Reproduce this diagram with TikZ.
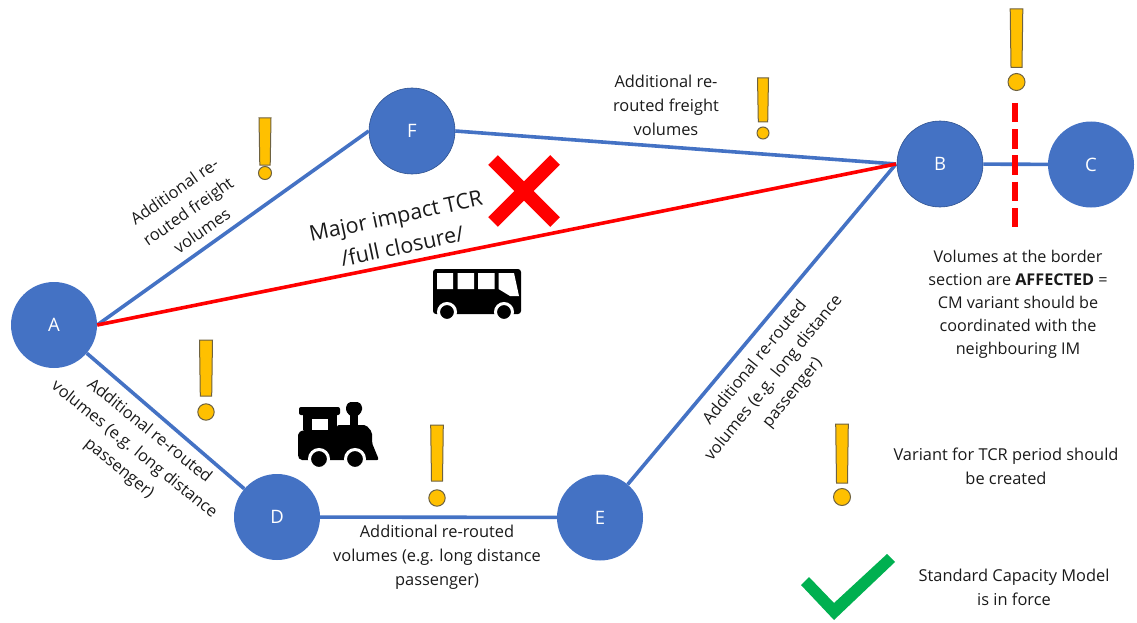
\documentclass[tikz,border=0pt]{standalone}
\usepackage{fontspec}
\setmainfont{Open Sans}
\definecolor{nodeblue}{HTML}{4472C4}
\definecolor{nodeedge}{HTML}{2F528F}
\definecolor{bangfill}{HTML}{FFC000}
\definecolor{bangedge}{HTML}{6E6240}
\definecolor{okgreen}{HTML}{00B050}
\definecolor{txt}{HTML}{1A1A1A}
\tikzset{
  station/.style={circle,fill=nodeblue,minimum size=86pt,inner sep=0pt,text=white,font=\fontsize{18.5}{18.5}\selectfont},
  edged/.style={draw=nodeedge,line width=0.6pt},
  route/.style={draw=nodeblue,line width=3.6pt},
  closed/.style={draw=red,line width=3.6pt},
  bangshape/.style={fill=bangfill,draw=bangedge,line width=1pt},
  label/.style={align=center,text=txt,inner sep=0pt,font=\fontsize{16.4}{24}\selectfont},
}
% x, top, bottom, half width, circle y, circle radius
\newcommand{\bangmark}[6]{
  \path[bangshape] (#1-#4,#2) -- (#1+#4,#2) -- (#1+#4-0.8,#3) -- (#1-#4+0.8,#3) -- cycle;
  \path[bangshape] (#1,#5) circle (#6);
}
\begin{document}
\begin{tikzpicture}[x=1pt,y=-1pt]
\useasboundingbox (0,0) rectangle (1137,623);
\coordinate (Bhub) at (896,164);
\coordinate (Dashtop) at (1015,103);
\coordinate (Dashbot) at (1015,228);
\node[station] (A) at (54,325) {A};
\node[station,edged] (F) at (412,131) {F};
\node[station,edged] (B) at (940,164) {B};
\node[station] (C) at (1091,164.5) {C};
\node[station] (D) at (277,517) {D};
\node[station] (E) at (600,517.5) {E};
\path[route] (A.east) -- (F.west);
\path[route] (F.east) -- (Bhub);
\path[route] (A) -- (D);
\path[route] (D) -- (E);
\path[route] (E) -- (Bhub);
\path[route] (B) -- (C);
\path[closed] (A.east) -- (Bhub);
\path[draw=red,line width=6.5pt,dash pattern=on 19.5pt off 6.7pt] (Dashtop) -- (Dashbot);
% exclamation marks
\bangmark{265}{118}{165}{6}{173}{6.5}
\bangmark{763}{78}{122}{5.5}{133}{6}
\bangmark{1016.5}{9}{67.5}{6.3}{82}{8.5}
\bangmark{206}{340}{396}{6.5}{412}{8.2}
\bangmark{437}{425}{481}{6.3}{498}{8.2}
\bangmark{842}{424}{483}{6.3}{497}{8.5}
% red cross
\path[draw=red,line width=13.5pt] (493,160) -- (555,222) (555,160) -- (493,222);
% green check
\path[fill=okgreen] (801,585) -- (809,577) -- (834,603) -- (887,554) -- (895,562) -- (834,620) -- cycle;
% bus
\path[fill=black,rounded corners=3pt] (433,269) rectangle (521,314);
\path[fill=white] (437,273) rectangle (453,289) (457.5,273) rectangle (474,289) (478,273) rectangle (494.5,289);
\path[fill=white] (498.5,273) -- (514,273) -- (519,296) -- (510,296) -- (498.5,289) -- cycle;
\path[fill=black,draw=white,line width=3pt] (447,312) circle (8.5) (504,312) circle (8.5);
% locomotive
\path[fill=black,rounded corners=2pt] (299,407) rectangle (340,415);
\path[fill=black] (303,412) rectangle (337,430);
\path[fill=black,rounded corners=2pt] (298,457) -- (298,433) -- (303,430) -- (337,430) -- (337,425) -- (366,425) -- (372,432) -- (372,443) -- (379,460) -- (300,460) -- cycle;
\path[fill=black,rounded corners=1.5pt] (346,406) -- (349,402) -- (359,402) -- (362,406) -- (362,411) -- (358,416) -- (350,416) -- (346,411) -- cycle;
\path[fill=black] (349.5,412) rectangle (358,428);
\path[fill=white] (312,419) rectangle (328,430);
\path[fill=white] (305,461) rectangle (376,470);
\path[fill=black,draw=white,line width=3pt] (319,459) circle (9.5) (355,459) circle (9.5);
% labels
\node[label,rotate=35] (l1) at (188,211) {Additional re-\\routed freight\\volumes};
\node[label] (l2) at (666,105.5) {Additional re-\\routed freight\\volumes};
\node[label,rotate=-39] (l3) at (134,450) {Additional re-routed\\volumes (e.g. long distance\\passenger)};
\node[label] (l4) at (437,557) {Additional re-routed\\volumes (e.g. long distance\\passenger)};
\node[label,rotate=51] (l5) at (774,378) {Additional re-routed\\volumes (e.g. long distance\\passenger)};
\node[label,rotate=12,font=\fontsize{21.5}{31}\selectfont] (l6) at (399,231) {Major impact TCR\\/full closure/};
\node[label,font=\fontsize{16.2}{23}\selectfont] (l7) at (1018,304) {Volumes at the border\\section are \textbf{AFFECTED} =\\CM variant should be\\coordinated with the\\neighbouring IM};
\node[label] (l8) at (1006,466.5) {Variant for TCR period should\\be created};
\node[label] (l9) at (1014,587) {Standard Capacity Model\\is in force};
\end{tikzpicture}
\end{document}
